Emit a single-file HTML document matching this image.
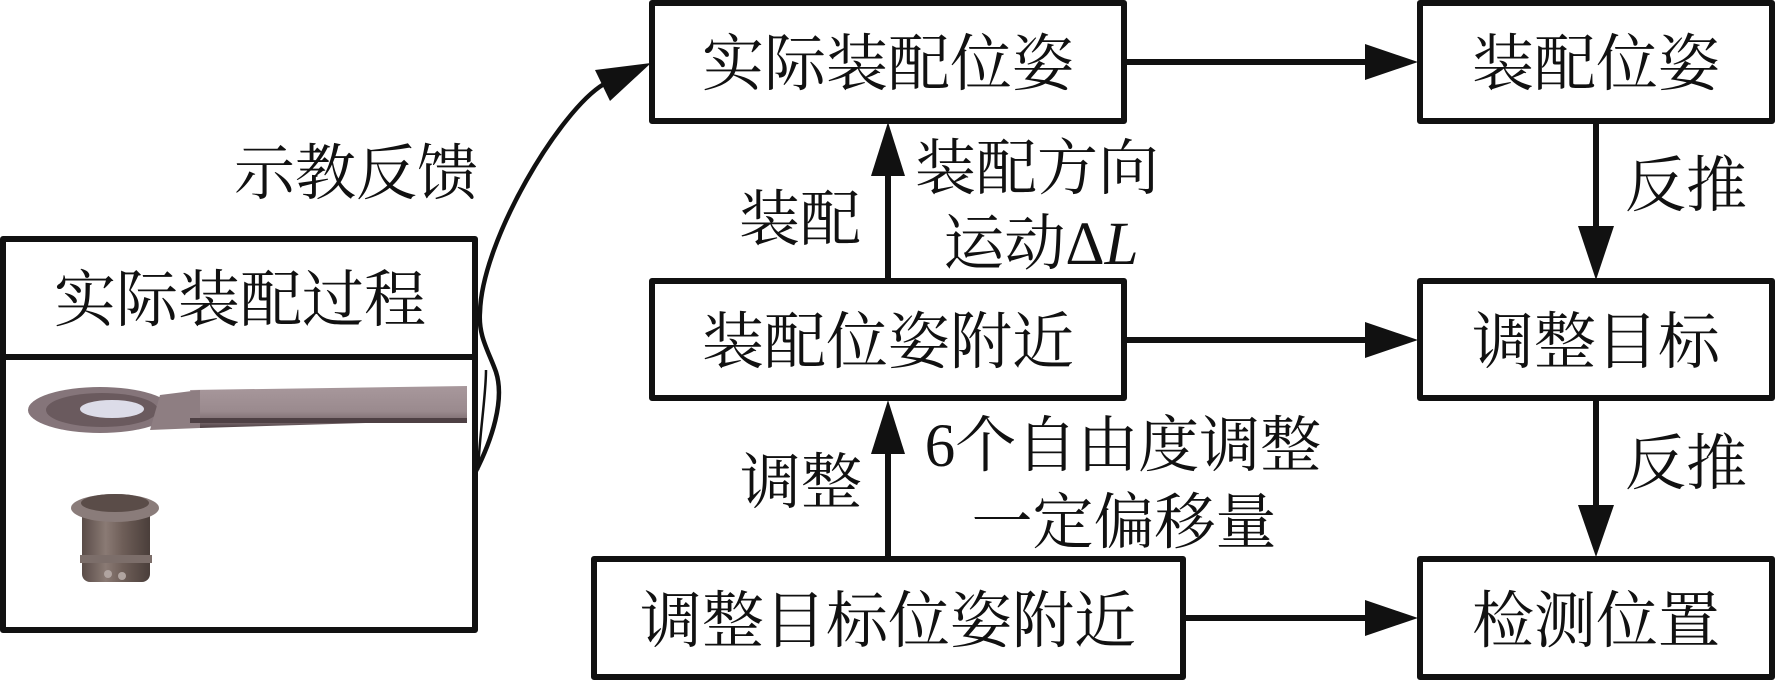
<!DOCTYPE html>
<html>
<head>
<meta charset="utf-8">
<style>
html,body{margin:0;padding:0;background:#fff;}
svg{display:block;}
text{font-family:"Liberation Serif","Noto Serif CJK SC",serif;fill:#111;}
</style>
</head>
<body>
<svg width="1777" height="681" viewBox="0 0 1777 681" xmlns="http://www.w3.org/2000/svg">
<defs>
  <linearGradient id="bar" x1="0" y1="0" x2="0" y2="1">
    <stop offset="0" stop-color="#a8989c"/>
    <stop offset="0.6" stop-color="#9a8a8e"/>
    <stop offset="0.85" stop-color="#7a6a6e"/>
    <stop offset="1" stop-color="#4e4044"/>
  </linearGradient>
  <linearGradient id="nut" x1="0" y1="0" x2="1" y2="0">
    <stop offset="0" stop-color="#5a4c48"/>
    <stop offset="0.35" stop-color="#8a7a74"/>
    <stop offset="0.6" stop-color="#6e5e58"/>
    <stop offset="1" stop-color="#4a3e3a"/>
  </linearGradient>
</defs>
<g fill="none" stroke="#111" stroke-width="6" stroke-linejoin="round">
  <!-- boxes -->
  <rect x="652" y="3" width="472" height="118"/>
  <rect x="652" y="281" width="472" height="117"/>
  <rect x="594" y="559" width="589" height="118"/>
  <rect x="1420" y="3" width="352" height="118"/>
  <rect x="1420" y="281" width="352" height="117"/>
  <rect x="1420" y="559" width="352" height="118"/>
  <!-- left box -->
  <rect x="3" y="239" width="472" height="391"/>
  <line x1="3" y1="357" x2="475" y2="357"/>
  <!-- connectors -->
  <line x1="1124" y1="62" x2="1370" y2="62"/>
  <line x1="1124" y1="340" x2="1370" y2="340"/>
  <line x1="1183" y1="618" x2="1370" y2="618"/>
  <line x1="888" y1="281" x2="888" y2="170"/>
  <line x1="888" y1="559" x2="888" y2="448"/>
  <line x1="1596" y1="121" x2="1596" y2="230"/>
  <line x1="1596" y1="398" x2="1596" y2="508"/>
</g>
<g fill="#111">
  <polygon points="1365,44 1418,62 1365,80"/>
  <polygon points="1365,322 1418,340 1365,358"/>
  <polygon points="1365,600 1418,618 1365,636"/>
  <polygon points="871,176 888,122 905,176"/>
  <polygon points="871,454 888,400 905,454"/>
  <polygon points="1578,226 1596,280 1614,226"/>
  <polygon points="1578,505 1596,557 1614,505"/>
  <!-- curved arrow head -->
  <polygon points="595,70 651,63 610,101"/>
</g>
<!-- curved connector -->
<path d="M475,473 C492,440 505,400 496,372 C489,352 478,336 480,312 C482,240 560,110 604,84" fill="none" stroke="#111" stroke-width="4.5"/>
<path d="M478,470 C480,430 486,395 486,370" fill="none" stroke="#111" stroke-width="2.5"/>

<!-- wrench -->
<g>
  <path d="M190,390 L467,386 L467,420 L200,428 Z" fill="url(#bar)"/>
  <ellipse cx="100" cy="410" rx="72" ry="23" fill="#85757a"/>
  <ellipse cx="102" cy="410" rx="56" ry="17" fill="#6a5a5e"/>
  <ellipse cx="112" cy="409" rx="32" ry="9" fill="#dcdce8"/>
  <path d="M160,395 L200,390 L200,428 L150,430 Z" fill="#8e7e82"/>
  <rect x="190" y="418" width="277" height="5" fill="#4e4044"/>
</g>
<!-- nut -->
<g>
  <rect x="82" y="500" width="68" height="82" rx="8" fill="url(#nut)"/>
  <ellipse cx="115" cy="508" rx="44" ry="14" fill="#8a7c7a"/>
  <ellipse cx="115" cy="503" rx="34" ry="9" fill="#5a4c48"/>
  <rect x="80" y="555" width="72" height="8" fill="#7c6e6a"/>
  <circle cx="108" cy="574" r="4" fill="#b0a4a0"/>
  <circle cx="122" cy="576" r="4" fill="#b0a4a0"/>
</g>

<!-- box texts -->
<g font-size="62" text-anchor="middle">
  <text x="888" y="85">实际装配位姿</text>
  <text x="1596" y="85">装配位姿</text>
  <text x="888" y="363">装配位姿附近</text>
  <text x="1596" y="363">调整目标</text>
  <text x="888" y="642">调整目标位姿附近</text>
  <text x="1596" y="642">检测位置</text>
  <text x="240" y="321">实际装配过程</text>
</g>
<!-- labels -->
<g font-size="61" text-anchor="middle">
  <text x="356" y="194">示教反馈</text>
  <text x="800" y="240">装配</text>
  <text x="801" y="503">调整</text>
  <text x="1037" y="189">装配方向</text>
  <text x="1041" y="264">运动<tspan font-family="Liberation Serif">Δ</tspan><tspan font-family="Liberation Serif" font-style="italic">L</tspan></text>
  <text x="1123" y="466">6个自由度调整</text>
  <text x="1124" y="543">一定偏移量</text>
  <text x="1686" y="206">反推</text>
  <text x="1686" y="484">反推</text>
</g>
</svg>
</body>
</html>
